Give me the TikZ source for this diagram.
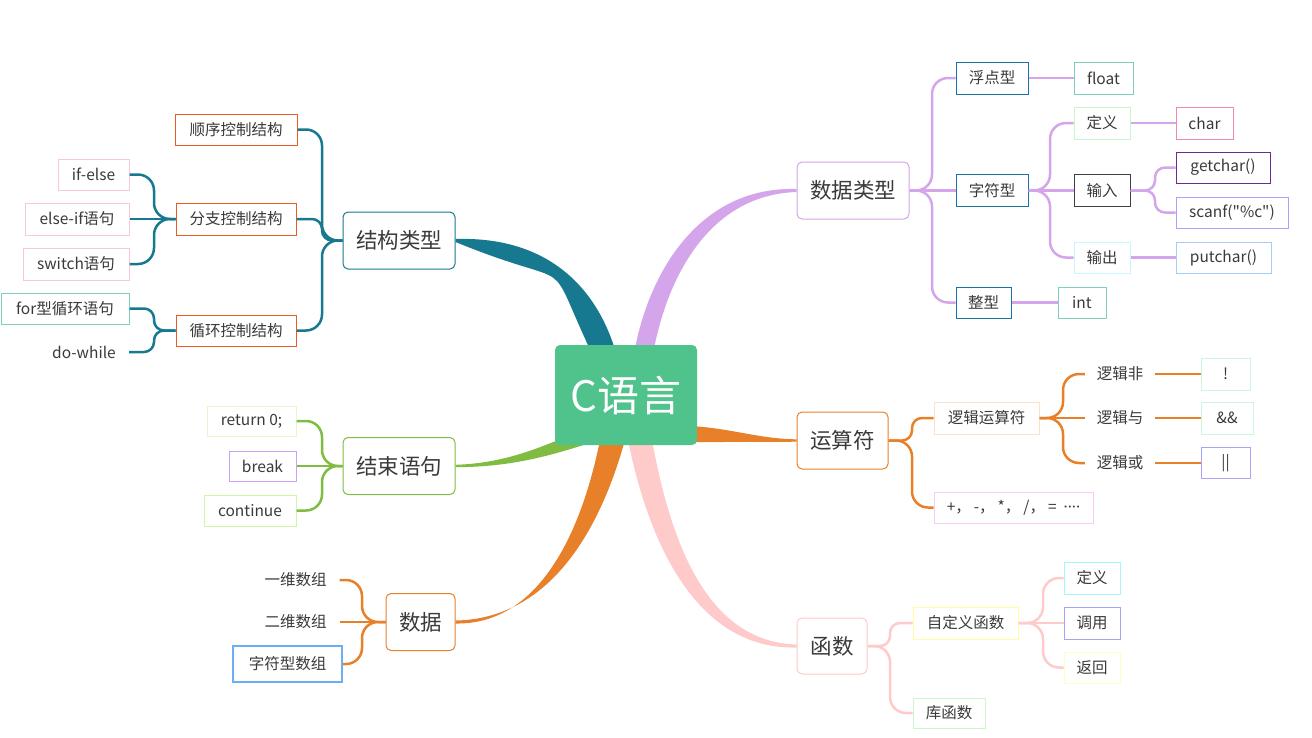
\documentclass[tikz,border=0pt]{standalone}
\usepackage{fontspec}
\setmainfont[Ligatures=TeXOff]{Noto Sans CJK SC}
\newfontfamily\latf[Ligatures=TeXOff]{Noto Sans}
\usetikzlibrary{calc}
\definecolor{txt}{HTML}{3A3A3A}
\definecolor{cteal}{HTML}{17798F}
\definecolor{cpurp}{HTML}{D4A5EA}
\definecolor{corng}{HTML}{E8802A}
\definecolor{cgreen}{HTML}{80BC42}
\definecolor{cpink}{HTML}{FFCACA}
\definecolor{ccent}{HTML}{50C38C}
\definecolor{bred}{HTML}{EE5A24}
\definecolor{bpink}{HTML}{F8C8DA}
\definecolor{bmint}{HTML}{80CEC0}
\definecolor{bblue}{HTML}{1A70AA}
\definecolor{blgreen}{HTML}{C8F8C8}
\definecolor{bdark}{HTML}{404040}
\definecolor{blcyan}{HTML}{C8F8FF}
\definecolor{bchar}{HTML}{EC8CAA}
\definecolor{bdpurp}{HTML}{6B2C91}
\definecolor{blav}{HTML}{A9A4F8}
\definecolor{blblue}{HTML}{A8CCF8}
\definecolor{blorng}{HTML}{FCE2C8}
\definecolor{blmag}{HTML}{F8CCF8}
\definecolor{bmint2}{HTML}{CCF6E4}
\definecolor{bret}{HTML}{E4F8CC}
\definecolor{bbrk}{HTML}{C8A4F8}
\definecolor{bcont}{HTML}{CCF8A8}
\definecolor{barr}{HTML}{6AAEF5}
\definecolor{byel}{HTML}{FFFFA0}
\definecolor{bcyan}{HTML}{A4F8F8}
\definecolor{bviol}{HTML}{A4A4F8}
\definecolor{blyel}{HTML}{FFFFC4}
\begin{document}
\begin{tikzpicture}[x=1pt,y=-1pt,
  sb/.style={draw, line width=1pt, inner sep=0pt, text=txt, fill=white,
    font=\fontsize{15.5pt}{18pt}\selectfont},
  tb/.style={inner sep=0pt, text=txt, font=\fontsize{15.5pt}{18pt}\selectfont},
  mn/.style={draw, rounded corners=5pt, line width=1pt, inner sep=0pt, fill=white, text=txt,
    font=\fontsize{21.5pt}{24pt}\selectfont},
  conn/.style={line width=2.5pt, rounded corners=16pt},
  connS/.style={line width=2.5pt, rounded corners=10pt},
  connL/.style={line width=2.5pt}
]
\useasboundingbox (0,0) rectangle (1312,737);

% main nodes
\node[mn, draw=cteal, minimum width=112pt, minimum height=57pt] (A) at (399,240.5) {结构类型};
\node[mn, draw=cpurp, minimum width=112pt, minimum height=57pt] (B) at (853,190.5) {数据类型};
\node[mn, draw=corng, minimum width=91pt, minimum height=57pt] (Cc) at (842.5,440.5) {运算符};
\node[mn, draw=cgreen, minimum width=112pt, minimum height=57pt] (D) at (399,466) {结束语句};
\node[mn, draw=corng, minimum width=69pt, minimum height=57pt] (E) at (420.5,622) {数据};
\node[mn, draw=cpink, minimum width=70pt, minimum height=56pt] (F) at (832,646) {函数};

% structure subtree
\node[sb, draw=bred, minimum width=122pt, minimum height=31pt] (a1) at (236,129.5) {顺序控制结构};
\node[sb, draw=bred, minimum width=120pt, minimum height=32pt] (a2) at (236,219) {分支控制结构};
\node[sb, draw=bred, minimum width=120pt, minimum height=31pt] (a3) at (236,330.5) {循环控制结构};
\node[sb, draw=bpink, minimum width=71pt, minimum height=31pt] (a21) at (93.5,174.5) {if-else};
\node[sb, draw=bpink, minimum width=104pt, minimum height=32pt] (a22) at (77,219) {else-if语句};
\node[sb, draw=bpink, minimum width=106pt, minimum height=32pt] (a23) at (76,264) {switch语句};
\node[sb, draw=bmint, minimum width=128pt, minimum height=31pt] (a31) at (65,308.5) {for型循环语句};
\node[tb, minimum width=90pt, minimum height=31pt] (a32) at (84,352) {do-while};

% data type subtree
\node[sb, draw=bblue, minimum width=72pt, minimum height=32pt] (b1) at (992,78) {浮点型};
\node[sb, draw=bblue, minimum width=72pt, minimum height=32pt] (b2) at (992,190.5) {字符型};
\node[sb, draw=bblue, minimum width=55pt, minimum height=31pt] (b3) at (983.5,302.5) {整型};
\node[sb, draw=bmint, minimum width=59pt, minimum height=32pt] (b11) at (1103.5,78) {float};
\node[sb, draw=bmint, minimum width=48pt, minimum height=31pt] (b31) at (1082,302.5) {int};
\node[sb, draw=blgreen, minimum width=56pt, minimum height=32pt] (b21) at (1102,123) {定义};
\node[sb, draw=bdark, minimum width=56pt, minimum height=32pt] (b22) at (1102,190.5) {输入};
\node[sb, draw=blcyan, minimum width=56pt, minimum height=31pt] (b23) at (1102,257.5) {输出};
\node[sb, draw=bchar, minimum width=57pt, minimum height=32pt] (b211) at (1204.5,123) {char};
\node[sb, draw=bdpurp, minimum width=94pt, minimum height=31pt] (b221) at (1223,167.5) {getchar()};
\node[sb, draw=blav, minimum width=112pt, minimum height=31pt] (b222) at (1232,212.5) {scanf("\%c")};
\node[sb, draw=blblue, minimum width=95pt, minimum height=31pt] (b231) at (1223.5,257.5) {putchar()};

% operator subtree
\node[sb, draw=blorng, minimum width=105pt, minimum height=32pt] (c1) at (986.5,418) {逻辑运算符};
\node[sb, draw=blmag, minimum width=159pt, minimum height=31pt] (c2) at (1013.5,507.5)
  {+，\hspace{3pt}-，\hspace{3pt}*，\hspace{3pt}/，\hspace{3pt}=\hspace{7pt}{\latf ····}};
\node[tb, minimum width=70pt, minimum height=31pt] (c11) at (1120,374) {逻辑非};
\node[tb, minimum width=70pt, minimum height=31pt] (c12) at (1120,418) {逻辑与};
\node[tb, minimum width=70pt, minimum height=31pt] (c13) at (1120,463) {逻辑或};
\node[sb, draw=bmint2, minimum width=49pt, minimum height=32pt] (c111) at (1225.5,374) {!};
\node[sb, draw=bmint2, minimum width=52pt, minimum height=32pt] (c121) at (1227,418) {\&\&};
\node[sb, draw=blav, minimum width=49pt, minimum height=31pt] (c131) at (1225.5,463) {||};

% end statement subtree
\node[sb, draw=bret, minimum width=89pt, minimum height=30pt] (d1) at (251.5,421) {return 0;};
\node[sb, draw=bbrk, minimum width=67pt, minimum height=30pt] (d2) at (262.5,466) {break};
\node[sb, draw=bcont, minimum width=92pt, minimum height=31pt] (d3) at (250,510.5) {continue};

% array subtree
\node[tb, minimum width=88pt, minimum height=31pt] (e1) at (295.5,580) {一维数组};
\node[tb, minimum width=88pt, minimum height=31pt] (e2) at (295.5,622) {二维数组};
\node[sb, draw=barr, line width=2pt, minimum width=109pt, minimum height=36pt] (e3) at (287.5,664) {字符型数组};

% function subtree
\node[sb, draw=byel, minimum width=105pt, minimum height=32pt] (f1) at (965.5,623) {自定义函数};
\node[sb, draw=blgreen, minimum width=72pt, minimum height=30pt] (f2) at (949,713) {库函数};
\node[sb, draw=bcyan, minimum width=56pt, minimum height=32pt] (f11) at (1092,578) {定义};
\node[sb, draw=bviol, minimum width=56pt, minimum height=32pt] (f12) at (1092,623) {调用};
\node[sb, draw=blyel, minimum width=56pt, minimum height=31pt] (f13) at (1092,667.5) {返回};

% fork coordinates
\coordinate (fA) at (322,240.5);
\coordinate (fa2) at (154,219);
\coordinate (fa3) at (154,330.5);
\coordinate (fB) at (932,190.5);
\coordinate (fb2) at (1050,190.5);
\coordinate (fb22) at (1155,190.5);
\coordinate (fC) at (912,440.5);
\coordinate (fc1) at (1063,418);
\coordinate (fD) at (322,466);
\coordinate (fE) at (362,622);
\coordinate (fF) at (890,646);
\coordinate (ff1) at (1043,623);

% connectors: structure (teal)
\begin{scope}[draw=cteal]
\draw[conn] (A.west) -- (fA) -- (fA |- a1.east) -- (a1.east);
\draw[connS] (A.west) -- (fA) -- (fA |- a2.east) -- (a2.east);
\draw[conn] (A.west) -- (fA) -- (fA |- a3.east) -- (a3.east);
\draw[conn] (a2.west) -- (fa2) -- (fa2 |- a21.east) -- (a21.east);
\draw[connL] (a2.west) -- (a22.east);
\draw[conn] (a2.west) -- (fa2) -- (fa2 |- a23.east) -- (a23.east);
\draw[connS] (a3.west) -- (fa3) -- (fa3 |- a31.east) -- (a31.east);
\draw[connS] (a3.west) -- (fa3) -- (fa3 |- a32.east) -- (a32.east);
\end{scope}

% connectors: data type (purple)
\begin{scope}[draw=cpurp]
\draw[conn] (B.east) -- (fB) -- (fB |- b1.west) -- (b1.west);
\draw[connL] (B.east) -- (b2.west);
\draw[conn] (B.east) -- (fB) -- (fB |- b3.west) -- (b3.west);
\draw[connL] (b1.east) -- (b11.west);
\draw[connL] (b3.east) -- (b31.west);
\draw[conn] (b2.east) -- (fb2) -- (fb2 |- b21.west) -- (b21.west);
\draw[connL] (b2.east) -- (b22.west);
\draw[conn] (b2.east) -- (fb2) -- (fb2 |- b23.west) -- (b23.west);
\draw[connL] (b21.east) -- (b211.west);
\draw[connS] (b22.east) -- (fb22) -- (fb22 |- b221.west) -- (b221.west);
\draw[connS] (b22.east) -- (fb22) -- (fb22 |- b222.west) -- (b222.west);
\draw[connL] (b23.east) -- (b231.west);
\end{scope}

% connectors: operators (orange)
\begin{scope}[draw=corng]
\draw[connS] (Cc.east) -- (fC) -- (fC |- c1.west) -- (c1.west);
\draw[conn] (Cc.east) -- (fC) -- (fC |- c2.west) -- (c2.west);
\draw[conn] (c1.east) -- (fc1) -- (fc1 |- c11.west) -- (c11.west);
\draw[connL] (c1.east) -- (c12.west);
\draw[conn] (c1.east) -- (fc1) -- (fc1 |- c13.west) -- (c13.west);
\draw[connL] (c11.east) -- (c111.west);
\draw[connL] (c12.east) -- (c121.west);
\draw[connL] (c13.east) -- (c131.west);
\end{scope}

% connectors: end statements (green)
\begin{scope}[draw=cgreen]
\draw[conn] (D.west) -- (fD) -- (fD |- d1.east) -- (d1.east);
\draw[connL] (D.west) -- (d2.east);
\draw[conn] (D.west) -- (fD) -- (fD |- d3.east) -- (d3.east);
\end{scope}

% connectors: arrays (orange)
\begin{scope}[draw=corng]
\draw[conn] (E.west) -- (fE) -- (fE |- e1.east) -- (e1.east);
\draw[connL] (E.west) -- (e2.east);
\draw[conn] (E.west) -- (fE) -- (fE |- e3.east) -- (e3.east);
\end{scope}

% connectors: functions (pink)
\begin{scope}[draw=cpink]
\draw[connS] (F.east) -- (fF) -- (fF |- f1.west) -- (f1.west);
\draw[conn] (F.east) -- (fF) -- (fF |- f2.west) -- (f2.west);
\draw[conn] (f1.east) -- (ff1) -- (ff1 |- f11.west) -- (f11.west);
\draw[connL] (f1.east) -- (f12.west);
\draw[conn] (f1.east) -- (ff1) -- (ff1 |- f13.west) -- (f13.west);
\end{scope}

% tapered main branches
\fill[cteal] ($(A.east)+(0,-1.5)$) .. controls (550,236) and (600,290) .. (618,360)
  -- (595,360) .. controls (540,245) and (585,295) .. ($(A.east)+(0,1.5)$) -- cycle;
\fill[cpurp] ($(B.west)+(0,-1.5)$) .. controls (695,186) and (645,280) .. (633,360)
  -- (652,360) .. controls (664,285) and (705,195) .. ($(B.west)+(0,1.5)$) -- cycle;
\fill[corng] ($(Cc.west)+(0,-1.2)$) .. controls (760,439) and (730,428) .. (690,426)
  -- (690,442) .. controls (730,442) and (760,442) .. ($(Cc.west)+(0,1.2)$) -- cycle;
\fill[cgreen] ($(D.east)+(0,-1.2)$) .. controls (515,463) and (555,440) .. (595,425)
  -- (600,440) .. controls (560,452) and (520,467) .. ($(D.east)+(0,1.2)$) -- cycle;
\fill[corng] ($(E.east)+(0,-1.5)$) .. controls (550,619) and (600,530) .. (625,440)
  -- (600,440) .. controls (582,530) and (540,625) .. ($(E.east)+(0,1.5)$) -- cycle;
\fill[cpink] ($(F.west)+(0,1.5)$) .. controls (700,650) and (650,550) .. (628,440)
  -- (652,440) .. controls (672,550) and (710,642) .. ($(F.west)+(0,-1.5)$) -- cycle;

% central node
\node[fill=ccent, rounded corners=5pt, minimum width=142pt, minimum height=100pt, inner sep=0pt,
  text=white, font=\fontsize{42pt}{48pt}\selectfont] (C) at (626,395) {C语言};
\end{tikzpicture}
\end{document}
